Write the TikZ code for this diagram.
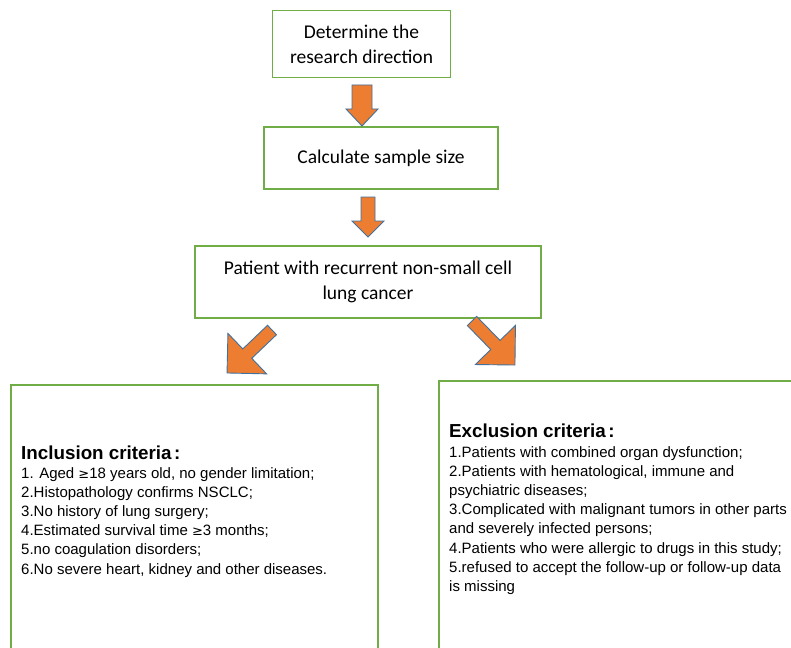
\documentclass[tikz,border=0pt]{standalone}
\usepackage{fontspec}
\setmainfont{Liberation Sans}
\newfontfamily\calib{Carlito}
\definecolor{boxgreen}{HTML}{70AD47}
\definecolor{arroworange}{HTML}{ED7D31}
\definecolor{arrowblue}{HTML}{41719C}
\tikzset{
  box/.style={draw=boxgreen, line width=1.5pt, fill=white, align=center, inner sep=0pt,
    font=\calib\fontsize{19.5}{25}\selectfont},
  frame/.style={draw=boxgreen, line width=1.5pt},
  arrowshape/.style={draw=arrowblue, fill=arroworange, line width=0.9pt, line join=miter},
  headtext/.style={anchor=base west, inner sep=0pt, font=\bfseries\fontsize{18.8}{22}\selectfont},
  bodytext/.style={anchor=base west, inner sep=0pt, font=\fontsize{15}{19.2}\selectfont},
}
\newcommand\blockarrow[7]{% name, tail, angle, length, shaft half, head half, head length
  \coordinate (#1) at #2;
  \begin{scope}[shift={(#1)}, rotate=#3]
    \draw[arrowshape] (0,#5) -- ({#4-#7},#5) -- ({#4-#7},#6) -- (#4,0)
      -- ({#4-#7},-#6) -- ({#4-#7},-#5) -- (0,-#5) -- cycle;
  \end{scope}}
\newcommand\gesign{{\fontspec{DejaVu Sans}\fontsize{13}{19.2}\selectfont ≥}}
\begin{document}
\begin{tikzpicture}[x=1pt, y=-1pt]
\useasboundingbox (0,0) rectangle (791,647);
\clip (0,0) rectangle (791,647);
\fill[white] (0,0) rectangle (791,647);

% top boxes
\node[box, minimum width=178pt, minimum height=67pt] (dir) at (361.5,44) {Determine the\\research direction};
\node[box, minimum width=234pt, minimum height=62pt] (size) at (381,158) {Calculate sample size};
\node[box, minimum width=346pt, minimum height=72pt] (pat) at (368,282) {Patient with recurrent non-small cell\\lung cancer};

% block arrows
\blockarrow{a1}{(362,85)}{-90}{41}{10}{16}{17}
\blockarrow{a2}{(368,197)}{-90}{40}{7}{16}{16}
\blockarrow{a3}{(272,330)}{-136.3}{62.2}{6.5}{28}{28}
\blockarrow{a4}{(472,321)}{-45.7}{61.5}{6.5}{28}{28}

% criteria frames (open at the picture edges)
\draw[frame] (11,660) -- (11,385) -- (378,385) -- (378,660);
\draw[frame] (439,660) -- (439,381) -- (800,381);

% inclusion
\node[headtext] (inch) at (21,459) {Inclusion criteria\hspace{2.5pt}:};
\node[bodytext] (inc1) at (21,478) {1. Aged \gesign18 years old, no gender limitation;};
\node[bodytext] (inc2) at (21,497.2) {2.Histopathology confirms NSCLC;};
\node[bodytext] (inc3) at (21,516.4) {3.No history of lung surgery;};
\node[bodytext] (inc4) at (21,535.6) {4.Estimated survival time \gesign3 months;};
\node[bodytext] (inc5) at (21,554.8) {5.no coagulation disorders;};
\node[bodytext] (inc6) at (21,574) {6.No severe heart, kidney and other diseases.};

% exclusion
\node[headtext] (exch) at (449,437) {Exclusion criteria\hspace{2.5pt}:};
\node[bodytext] (exc1) at (449,457) {1.Patients with combined organ dysfunction;};
\node[bodytext] (exc2) at (449,476.2) {2.Patients with hematological, immune and};
\node[bodytext] (exc3) at (449,495.4) {psychiatric diseases;};
\node[bodytext] (exc4) at (449,514.6) {3.Complicated with malignant tumors in other parts};
\node[bodytext] (exc5) at (449,533.8) {and severely infected persons;};
\node[bodytext] (exc6) at (449,553) {4.Patients who were allergic to drugs in this study;};
\node[bodytext] (exc7) at (449,572.2) {5.refused to accept the follow-up or follow-up data};
\node[bodytext] (exc8) at (449,591.4) {is missing};
\end{tikzpicture}
\end{document}
